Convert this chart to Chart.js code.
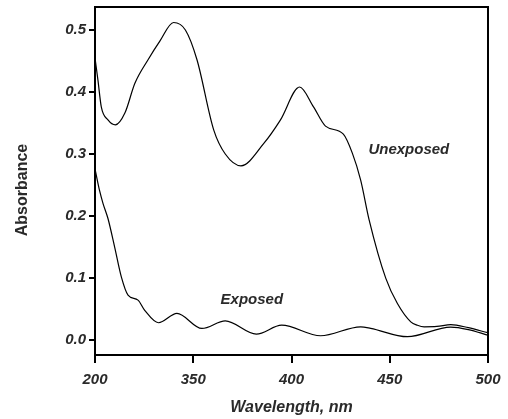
<!DOCTYPE html>
<html><head><meta charset="utf-8">
<script src="https://cdn.jsdelivr.net/npm/chart.js@4"></script>
<style>html,body{margin:0;padding:0;background:#fff}#wrap{width:508px;height:419px;position:relative}</style>
</head><body><div id="wrap"><canvas id="c"></canvas></div>
<script>
const unexposedX = [300, 301.5, 303.2, 306.6, 310.4, 315.2, 320.3, 327, 333, 340, 346, 351.9, 360.4, 366.3, 374.3, 385.9, 394.4, 404.1, 411.2, 417.3, 426.4, 431, 435.2, 439.5, 448, 453.9, 460.7, 464.1, 467.5, 474, 481.1, 490, 499.8];
const unexposedY = [0.455, 0.419, 0.376, 0.355, 0.347, 0.366, 0.414, 0.452, 0.482, 0.512, 0.500, 0.452, 0.339, 0.300, 0.281, 0.317, 0.355, 0.408, 0.376, 0.345, 0.332, 0.301, 0.258, 0.194, 0.0995, 0.059, 0.0295, 0.024, 0.0215, 0.022, 0.025, 0.020, 0.012];
const exposedX = [300, 302.4, 304.1, 306.6, 310, 313.4, 316.8, 321.9, 325.3, 332.3, 341.7, 354.4, 366.3, 382.1, 395, 414.8, 435.2, 440.3, 459, 481, 490, 499.8];
const exposedY = [0.276, 0.240, 0.22, 0.196, 0.15, 0.102, 0.0726, 0.0645, 0.048, 0.028, 0.043, 0.0188, 0.031, 0.0097, 0.024, 0.007, 0.0215, 0.019, 0.0055, 0.021, 0.017, 0.008];
const xTickValues = [300, 350, 400, 450, 500];
const xTickLabels = ['200', '350', '400', '450', '500'];
const yTickValues = [0, 0.1, 0.2, 0.3, 0.4, 0.5];
const labelTexts = ['Unexposed', 'Exposed'];
const labelX = [459.7, 379.8];
const labelY = [0.306, 0.0645];
const yTitle = 'Absorbance';
const xTitle = 'Wavelength, nm';

const toPts = (xs, ys) => xs.map((x, i) => ({x: x, y: ys[i]}));
const FONT = "'Liberation Sans', Arial, sans-serif";
const TXT = '#2a2a2a';

const framePlugin = {
  id: 'frame',
  afterDraw(chart) {
    const {ctx, chartArea: a} = chart;
    ctx.save();
    ctx.strokeStyle = '#000';
    ctx.lineWidth = 2;
    ctx.beginPath();
    ctx.moveTo(a.left - 1, a.top);
    ctx.lineTo(a.right, a.top);
    ctx.lineTo(a.right, a.bottom + 1);
    ctx.stroke();
    ctx.fillStyle = TXT;
    ctx.font = "bold 16px " + FONT;
    ctx.textAlign = 'center';
    ctx.textBaseline = 'middle';
    ctx.translate(23, (a.top + a.bottom) / 2 + 9);
    ctx.rotate(-Math.PI / 2);
    ctx.fillText(yTitle, 0, 0);
    ctx.restore();
  }
};
const labelPlugin = {
  id: 'labels',
  afterDatasetsDraw(chart) {
    const {ctx, scales} = chart;
    ctx.save();
    ctx.fillStyle = TXT;
    ctx.font = "italic bold 15px " + FONT;
    ctx.textAlign = 'center';
    ctx.textBaseline = 'middle';
    labelTexts.forEach((t, i) => {
      ctx.fillText(t, scales.x.getPixelForValue(labelX[i]), scales.y.getPixelForValue(labelY[i]));
    });
    ctx.restore();
  }
};

new Chart(document.getElementById('c'), {
  type: 'line',
  data: {
    datasets: [
      {label: 'Unexposed', data: toPts(unexposedX, unexposedY), borderColor: '#000', borderWidth: 1.2, pointRadius: 0, cubicInterpolationMode: 'monotone', fill: false},
      {label: 'Exposed', data: toPts(exposedX, exposedY), borderColor: '#000', borderWidth: 1.2, pointRadius: 0, cubicInterpolationMode: 'monotone', fill: false}
    ]
  },
  options: {
    responsive: true,
    maintainAspectRatio: false,
    animation: false,
    layout: {padding: {top: 7, right: 20, left: 0, bottom: 0}},
    plugins: {legend: {display: false}, tooltip: {enabled: false}},
    scales: {
      x: {
        type: 'linear', min: 300, max: 500,
        afterBuildTicks: s => { s.ticks = xTickValues.map(v => ({value: v})); },
        afterFit: s => { s.height = 64; s.paddingLeft = 0; s.paddingRight = 0; },
        ticks: {callback: (v, i) => xTickLabels[i], font: {family: FONT, size: 15, style: 'italic', weight: 'bold'}, color: TXT, padding: 8, maxRotation: 0, autoSkip: false},
        grid: {drawOnChartArea: false, drawTicks: true, tickLength: 8, color: '#000', lineWidth: 2},
        border: {color: '#000', width: 2},
        title: {display: true, text: xTitle, font: {family: FONT, size: 16, style: 'italic', weight: 'bold'}, color: TXT, padding: {top: 4, bottom: 2}}
      },
      y: {
        min: -0.024, max: 0.537,
        afterBuildTicks: s => { s.ticks = yTickValues.map(v => ({value: v})); },
        afterFit: s => { s.width = 95; s.paddingTop = 0; s.paddingBottom = 0; },
        ticks: {callback: v => v.toFixed(1), font: {family: FONT, size: 15, style: 'italic', weight: 'bold'}, color: TXT, padding: 3, autoSkip: false},
        grid: {drawOnChartArea: false, drawTicks: true, tickLength: 6, color: '#000', lineWidth: 2},
        border: {color: '#000', width: 2},
        title: {display: false}
      }
    }
  },
  plugins: [framePlugin, labelPlugin]
});
</script>
</body></html>
